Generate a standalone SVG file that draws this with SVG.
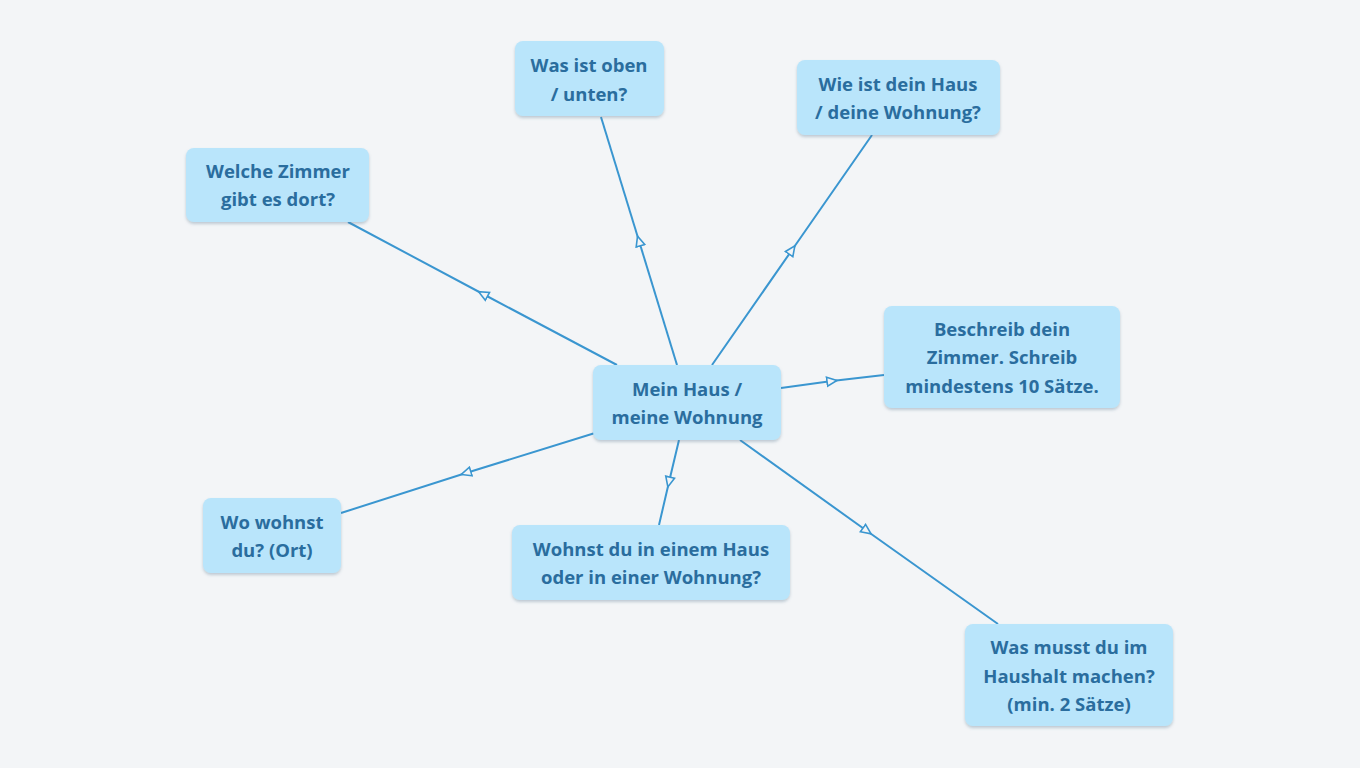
<svg xmlns="http://www.w3.org/2000/svg" width="1360" height="768" viewBox="0 0 1360 768">
<defs>
<marker id="a" viewBox="0 0 12 12" refX="6" refY="6" markerWidth="12" markerHeight="12" markerUnits="userSpaceOnUse" orient="auto">
<path d="M1,1.5 L11,6 L1,10.5 Z" fill="#f3f5f7" stroke="#3a96d0" stroke-width="1.6"/>
</marker>
<filter id="s" x="-10%" y="-10%" width="120%" height="130%"><feDropShadow dx="0" dy="2" stdDeviation="1.5" flood-color="#5a7a90" flood-opacity="0.35"/></filter>
</defs>
<style>
.n rect{fill:#b9e5fb;filter:url(#s)}
.n text{font-family:"Open Sans","Noto Sans",sans-serif;font-weight:bold;font-size:18.5px;fill:#2a6d9e;text-anchor:middle}
.c path{fill:none;stroke:#3a96d0;stroke-width:2;marker-mid:url(#a)}
</style>
<rect width="1360" height="768" fill="#f3f5f7"/>
<g class="c" id="connectors">
<path d="M677,365 L639,241 L601,117"/>
<path d="M712,365 L792,250 L872,135"/>
<path d="M617,365 L483,294 L348,222"/>
<path d="M781,388 L832,381 L884,375"/>
<path d="M595,433 L466,473 L341,513"/>
<path d="M679,440 L669,482 L659,525"/>
<path d="M740,440 L867,531 L998,624"/>
</g>
<g class="n" id="center"><rect x="593" y="365" width="188" height="75" rx="8"/><text x="687" y="396">Mein Haus /</text><text x="687" y="424">meine Wohnung</text></g>
<g class="n" id="oben"><rect x="515" y="41" width="149" height="75" rx="8"/><text x="589" y="72">Was ist oben</text><text x="589" y="101">/ unten?</text></g>
<g class="n" id="wie"><rect x="797" y="60" width="203" height="75" rx="8"/><text x="898" y="91">Wie ist dein Haus</text><text x="898" y="119">/ deine Wohnung?</text></g>
<g class="n" id="zimmer"><rect x="186" y="148" width="183" height="74" rx="8"/><text x="278" y="178">Welche Zimmer</text><text x="278" y="206">gibt es dort?</text></g>
<g class="n" id="beschreib"><rect x="884" y="306" width="236" height="102" rx="8"/><text x="1002" y="336">Beschreib dein</text><text x="1002" y="364">Zimmer. Schreib</text><text x="1002" y="393">mindestens 10 Sätze.</text></g>
<g class="n" id="wo"><rect x="203" y="498" width="138" height="75" rx="8"/><text x="272" y="529">Wo wohnst</text><text x="272" y="557">du? (Ort)</text></g>
<g class="n" id="wohnst"><rect x="512" y="525" width="278" height="75" rx="8"/><text x="651" y="556">Wohnst du in einem Haus</text><text x="651" y="584">oder in einer Wohnung?</text></g>
<g class="n" id="haushalt"><rect x="965" y="624" width="208" height="102" rx="8"/><text x="1069" y="654">Was musst du im</text><text x="1069" y="683">Haushalt machen?</text><text x="1069" y="711">(min. 2 Sätze)</text></g>
</svg>
